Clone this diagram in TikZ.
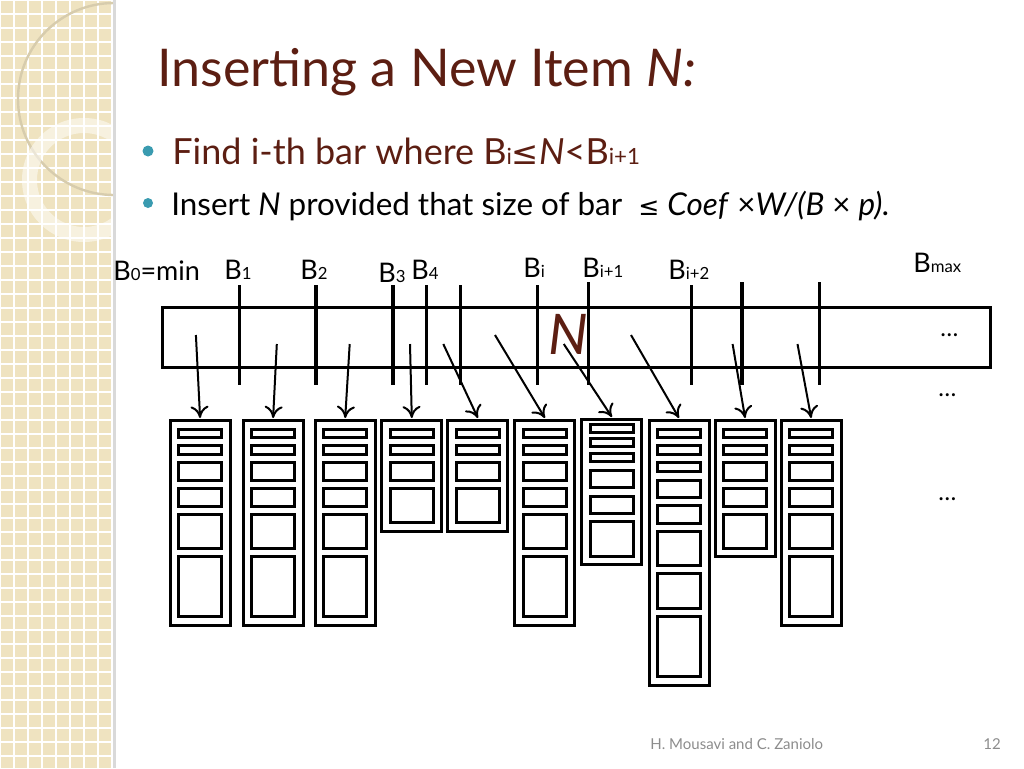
\documentclass[tikz,border=0pt]{standalone}
\usepackage{fontspec}
\setmainfont{Lato}
\newfontfamily\symfont{DejaVu Sans}
\usetikzlibrary{arrows.meta}
\definecolor{panel}{HTML}{EFE3C0}
\definecolor{titlered}{HTML}{5C1E12}
\definecolor{bullet}{HTML}{3A9BB0}
\definecolor{footgray}{HTML}{8C8C8C}
\newcommand\sm[1]{\scalebox{0.62}{#1}}
% inner box lists per column height
\def\boxessix{429/437.7,445.7/454.3,462.7/480,488.3/506,514/548.3,556.7/616.7}
\def\boxesfour{429/437.7,445.7/454.3,462.7/480,488.3/522.7}
\def\boxesfive{429/437.7,445.7/454.3,462.7/480,488.3/506,514/548.3}
\def\boxesmid{424.7/432.7,438.7/446.7,453.3/461.7,470/487.7,496/513.3,521.7/556}
\def\boxeslong{429/437.7,445.7/454.3,462.7/471.7,480/497.7,505.7/523.3,531.7/565.7,573.3/608.3,616.7/676.7}
\tikzset{
  every node/.style={inner sep=0pt, anchor=base west},
  frame/.style={line width=1.5pt},
  cut/.style={line width=1.7pt},
  feed/.style={line width=1pt, -{To[length=6pt,width=9pt]}},
  lbl/.style={font=\fontsize{13.5}{15}\selectfont},
}
\begin{document}
\begin{tikzpicture}[x=0.5pt, y=-0.5pt]
\useasboundingbox (0,0) rectangle (1024,768);
% left panel
\fill[panel] (0,0) rectangle (113,768);
\foreach \g in {0,14,...,112} \draw[white, line width=0.6pt] (\g,0) -- (\g,768);
\foreach \g in {0,14,...,768} \draw[white, line width=0.6pt] (0,\g) -- (113,\g);
\begin{scope}
  \clip (0,0) rectangle (113,768);
  \draw[black!10!panel, line width=1.2pt] (114,99) circle[radius=96];
  \fill[white, opacity=0.5, even odd rule] (84,180) circle[radius=62] (84,180) circle[radius=47];
\end{scope}
\fill[black!15] (113,0) rectangle (116,768);
% title and bullets
\node[text=titlered, font=\fontsize{26}{29}\selectfont] (title) at (157,86) {Inserting a New Item \textit{N:}};
\fill[bullet] (148,151) circle[radius=5.5];
\fill[bullet] (148,203) circle[radius=5];
\node[text=titlered, font=\fontsize{18}{20}\selectfont] (find) at (172,164)
  {Find i-th bar where B\sm{i}{\symfont\scalebox{0.9}{≤}}\textit{N}<B\sm{i+1}};
\node[font=\fontsize{15.7}{17}\selectfont] (insert) at (171,215)
  {Insert \textit{N} provided that size of bar \ {\symfont\scalebox{0.8}{≤}} \textit{Coef} ×\textit{W/(B} × \textit{p).}};
% bar labels
\node[lbl] (b0) at (113,280) {B\sm{0}=min};
\node[lbl] (b1) at (224,279) {B\sm{1}};
\node[lbl] (b2) at (300,279) {B\sm{2}};
\node[lbl] (b3) at (378,282) {B\sm{3}};
\node[lbl] (b4) at (411,279) {B\sm{4}};
\node[lbl] (bi) at (523,277) {B\sm{i}};
\node[lbl] (bi1) at (582,277) {B\sm{i+1}};
\node[lbl] (bi2) at (668,279) {B\sm{i+2}};
\node[lbl] (bmax) at (913,272) {B\sm{max}};
% the bar
\draw[frame, fill=white] (162,307) rectangle (990,367);
\foreach \x/\t in {239.5/285,315.8/285,392.8/285,426.6/285,460.5/285,537.4/285,588.5/282,691.3/285,741.8/282,819.3/282}
  \draw[cut] (\x,\t) -- (\x,385);
\node[text=titlered, font=\fontsize{28}{30}\selectfont\itshape] (n) at (548,354) {N};
\node[font=\fontsize{12}{14}\selectfont] (dots1) at (940,336) {\dots};
\node[font=\fontsize{12}{14}\selectfont] (dots2) at (938,396) {\dots};
\node[font=\fontsize{12}{14}\selectfont] (dots3) at (938,500) {\dots};
% buckets
\foreach \k/\xa/\yt/\yb/\boxes in {1/170.1/420/625/\boxessix, 2/243.1/420/625/\boxessix,
    3/315.2/420/625/\boxessix, 4/381.8/420/531.7/\boxesfour, 5/447.9/420/531.7/\boxesfour,
    6/514.9/420/625/\boxessix, 7/581.9/419/564.3/\boxesmid, 8/649/420/685.7/\boxeslong,
    9/715.1/420/556.7/\boxesfive, 10/781.2/420/625/\boxessix} {
  \draw[frame] (\xa,\yt) rectangle ++(60,\yb-\yt);
  \coordinate (t\k) at (\xa+30,\yt-2);
  \edef\blist{\boxes}
  \foreach \ya/\yz in \blist
    \draw[frame] (\xa+8.5,\ya) rectangle (\xa+51.5,\yz);
}
% feed arrows
\foreach \k/\x/\y in {1/195.9/335,2/276.8/344,3/349.7/344,4/410/344,5/443.3/344,
    6/495/335,7/563.8/344,8/631/335,9/732.6/344,10/797.5/344}
  \coordinate (s\k) at (\x,\y);
\foreach \k in {1,...,10} \draw[feed] (s\k) -- (t\k);
% footer
\node[text=footgray, font=\fontsize{7.5}{9}\selectfont] (foot) at (650,749) {H. Mousavi and C. Zaniolo};
\node[text=footgray, font=\fontsize{7.5}{9}\selectfont] (page) at (983,749) {12};
\end{tikzpicture}
\end{document}
